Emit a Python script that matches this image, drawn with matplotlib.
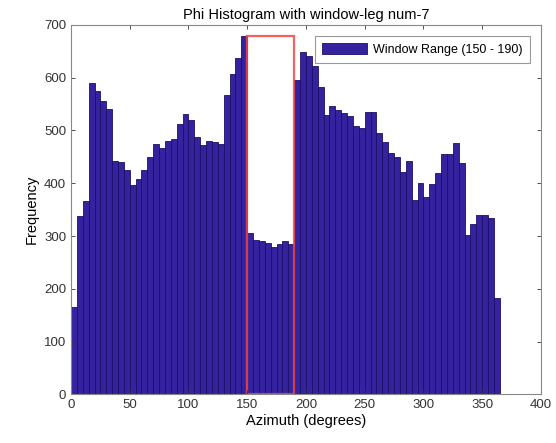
import matplotlib.pyplot as plt
import numpy as np
from matplotlib.patches import Rectangle

plt.rcParams['font.family'] = ['Liberation Sans', 'DejaVu Sans']

# histogram of phi, 5 degree bins from 0 to 365
bin_width = 5
bin_starts = np.arange(0, 365, bin_width)
counts = [165, 337, 367, 590, 574, 556, 541, 443, 440, 425,
          397, 408, 426, 449, 474, 467, 481, 484, 513, 532,
          520, 487, 472, 481, 478, 474, 567, 607, 637, 680,
          305, 293, 290, 287, 280, 285, 290, 285, 595, 648,
          641, 623, 582, 530, 546, 538, 533, 528, 509, 505,
          536, 535, 495, 478, 457, 449, 422, 442, 369, 401,
          373, 398, 420, 455, 455, 477, 438, 301, 322, 339,
          340, 334, 182]
window_lo, window_hi = 150, 190
leg_num = 7

fig = plt.figure(figsize=(5.56, 4.43), dpi=100)
ax = fig.add_axes([0.1277, 0.110, 0.8453, 0.8336])

ax.bar(bin_starts, counts, width=bin_width, align='edge',
       color='#35229f', edgecolor='#1c1066', linewidth=0.6,
       label='Window Range (%d - %d)' % (window_lo, window_hi))

# red box marking the window
ax.add_patch(Rectangle((window_lo, 0), window_hi - window_lo, max(counts),
                       fill=False, edgecolor='#f24545', linewidth=1.6, alpha=0.85))

ax.set_xlim(0, 400)
ax.set_ylim(0, 700)
ax.set_xticks(np.arange(0, 401, 50))
ax.set_yticks(np.arange(0, 701, 100))
ax.tick_params(direction='in', top=True, right=True, labelsize=9.5,
               colors='#333333', length=3, width=0.6)
for s in ax.spines.values():
    s.set_color('#888888')
    s.set_linewidth(0.8)

ax.set_title('Phi Histogram with window-leg num-%d' % leg_num, fontsize=10.5, pad=4)
ax.set_xlabel('Azimuth (degrees)', fontsize=10.5, labelpad=2)
ax.set_ylabel('Frequency', fontsize=10.5, labelpad=4)

leg = ax.legend(loc='upper right', fontsize=9, fancybox=False, framealpha=1,
                edgecolor='#999999', borderpad=0.55, handlelength=3.6,
                handleheight=1.0, handletextpad=0.5, borderaxespad=0.9)
leg.get_frame().set_linewidth(0.8)

fig.savefig('out.png', dpi=100)
